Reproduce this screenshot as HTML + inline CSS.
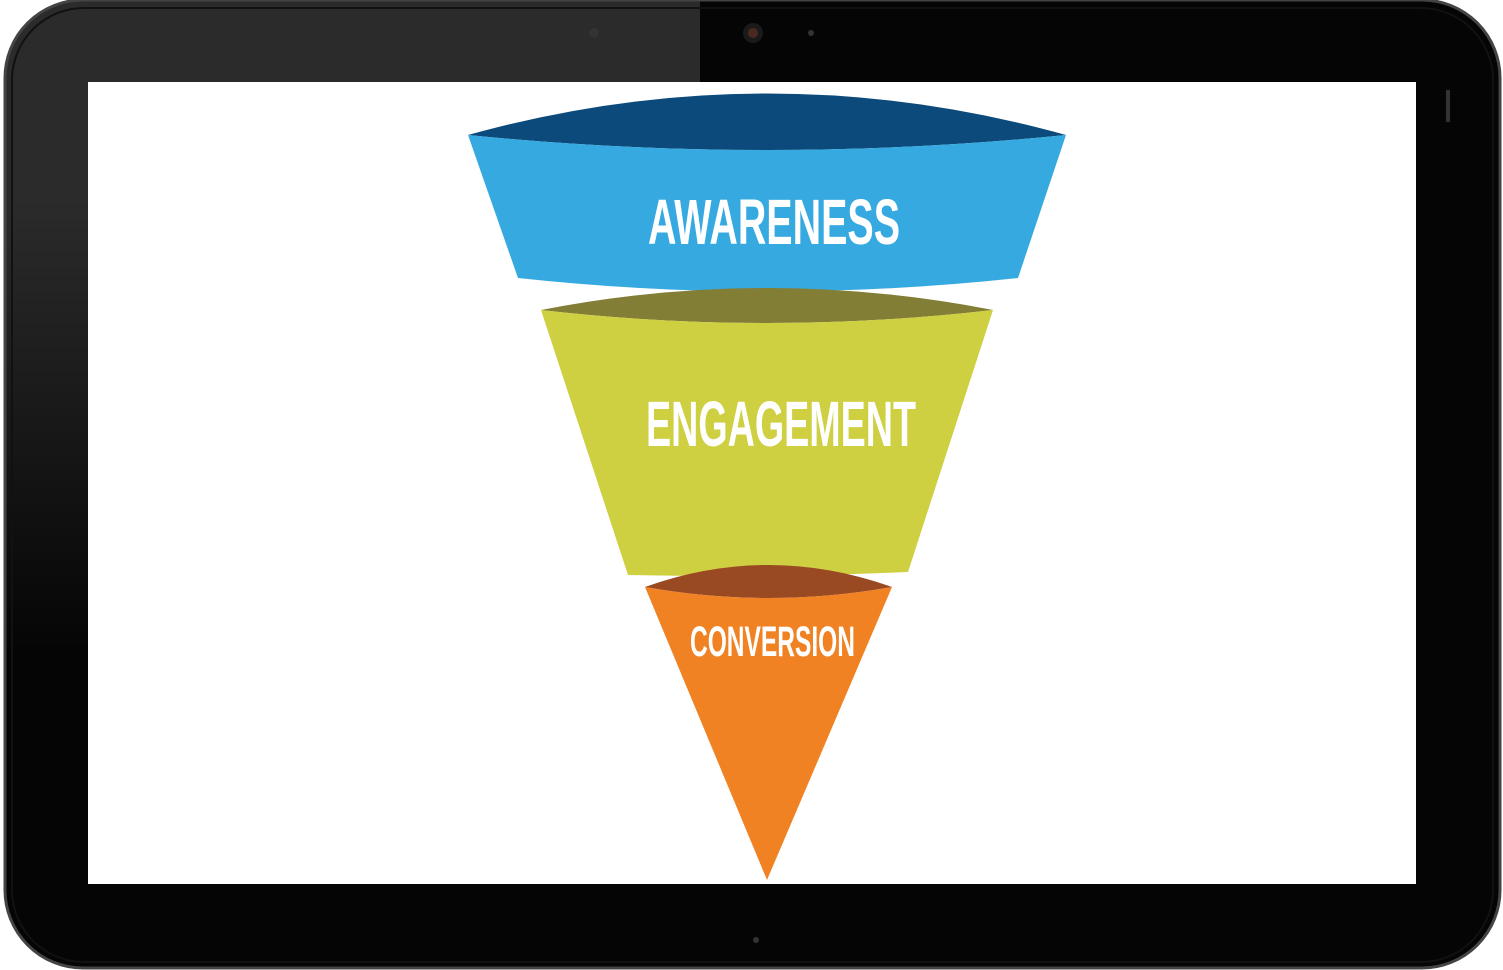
<!DOCTYPE html>
<html><head><meta charset="utf-8"><style>
html,body{margin:0;padding:0;background:#fff;width:1503px;height:970px;overflow:hidden}
svg{display:block}
text{font-family:"Liberation Sans",sans-serif;font-weight:bold;fill:#fff}
</style></head><body>
<svg width="1503" height="970" viewBox="0 0 1503 970">
<defs><clipPath id="c"><rect x="5" y="0" width="1495" height="968" rx="78"/></clipPath>
<linearGradient id="g" x1="0" y1="0" x2="0" y2="1"><stop offset="0" stop-color="#2b2b2b"/><stop offset="1" stop-color="#050505"/></linearGradient></defs>
<rect x="5" y="0" width="1495" height="968" rx="78" fill="#050505"/>
<g clip-path="url(#c)">
<polygon points="0,0 700,0 700,82 88,82 88,200 0,200" fill="#2b2b2b"/>
<rect x="0" y="200" width="88" height="450" fill="url(#g)"/>
</g>
<rect x="5" y="0" width="1495" height="968" rx="78" fill="none" stroke="#444" stroke-width="3"/>
<rect x="12" y="8" width="1481" height="954" rx="72" fill="none" stroke="#111" stroke-width="2"/>
<rect x="88" y="82" width="1328" height="802" fill="#fff"/>
<circle cx="753" cy="33" r="10" fill="#1a1a1a"/><circle cx="753" cy="33" r="5" fill="#4a2a20"/>
<circle cx="811" cy="33" r="3" fill="#333"/>
<circle cx="594" cy="33" r="5" fill="#333"/>
<circle cx="756" cy="940" r="3" fill="#333"/>
<rect x="1446" y="90" width="4" height="32" fill="#333"/>
<path d="M468,135 Q767,52 1066,135 Q767,165 468,135Z" fill="#0b4a7a"/>
<path d="M468,135 Q767,165 1066,135 L1018,278 Q767,305 518,278Z" fill="#36aae0"/>
<text x="648" y="244" font-size="64" textLength="252" lengthAdjust="spacingAndGlyphs">AWARENESS</text>
<path d="M541,310 Q767,266 993,310 Q767,336 541,310Z" fill="#827e35"/>
<path d="M541,310 Q767,336 993,310 L908,572 Q767,578 628,575Z" fill="#cfcf42"/>
<text x="646" y="446" font-size="64" textLength="270" lengthAdjust="spacingAndGlyphs">ENGAGEMENT</text>
<path d="M645,587 Q768,543 892,587 Q768,609 645,587Z" fill="#9a4a22"/>
<path d="M645,587 Q768,609 892,587 L767,880Z" fill="#f08224"/>
<text x="690" y="656" font-size="43" textLength="165" lengthAdjust="spacingAndGlyphs">CONVERSION</text>
</svg>
</body></html>
